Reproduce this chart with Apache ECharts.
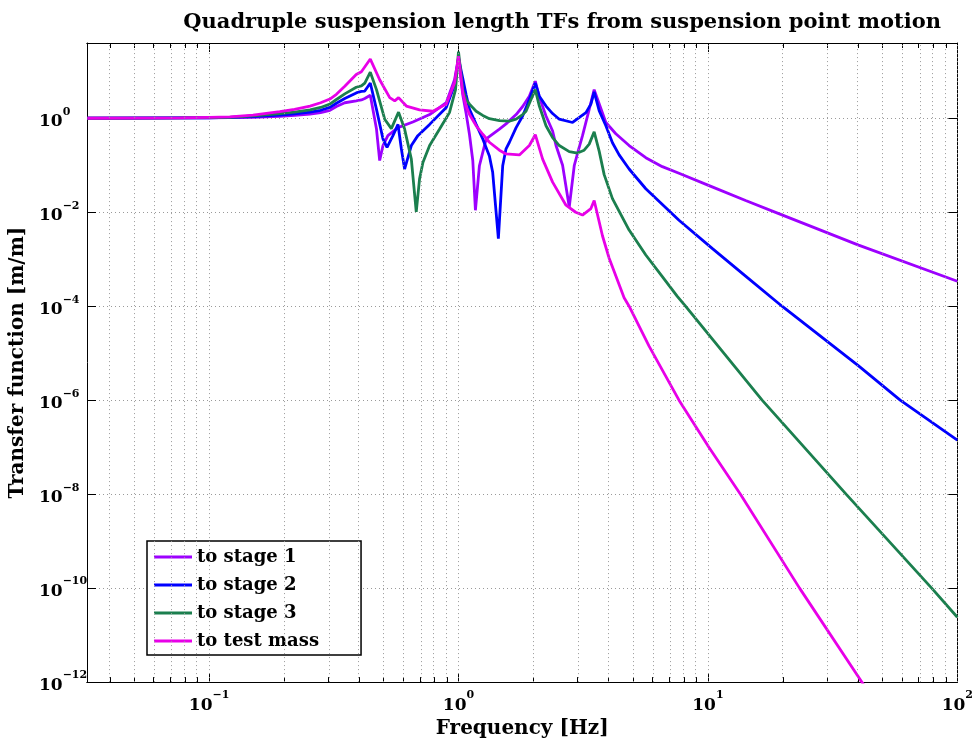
<!DOCTYPE html>
<html><head><meta charset="utf-8">
<script src="https://cdn.jsdelivr.net/npm/echarts@6/dist/echarts.min.js"></script>
<style>html,body{margin:0;padding:0;background:#fff}#c{width:976px;height:744px}</style>
</head><body><div id="c"></div>
<script>
// ---- data (frequency in Hz, magnitude in m/m) ----
const seriesNames = ['to stage 1', 'to stage 2', 'to stage 3', 'to test mass'];
const seriesColors = ['#9d00ff', '#0000ff', '#1b7f4e', '#e800e8'];

const stage1Freq = [0.0325, 0.0766, 0.10, 0.121, 0.15, 0.192, 0.22, 0.254, 0.28, 0.305, 0.324, 0.350, 0.389, 0.408, 0.421, 0.443, 0.469, 0.483, 0.498, 0.521, 0.572, 0.656, 0.766, 0.893, 0.964, 1.0, 1.04, 1.073, 1.107, 1.141, 1.169, 1.213, 1.291, 1.459, 1.551, 1.702, 1.808, 1.923, 2.032, 2.109, 2.243, 2.384, 2.460, 2.614, 2.780, 2.911, 3.000, 3.142, 3.342, 3.499, 3.898, 4.273, 4.831, 5.635, 6.564, 7.656, 10.40, 14.16, 19.23, 40.18, 100];
const stage1Mag = [1, 1.02, 1.02, 1.035, 1.05, 1.10, 1.15, 1.23, 1.32, 1.48, 1.78, 2.14, 2.34, 2.45, 2.63, 3.09, 0.589, 0.126, 0.263, 0.427, 0.631, 0.832, 1.20, 2.14, 6.61, 19.1, 3.16, 1.26, 0.447, 0.126, 0.0110, 0.0977, 0.363, 0.589, 0.759, 1.20, 1.78, 2.95, 6.17, 2.82, 1.12, 0.537, 0.263, 0.100, 0.0129, 0.0977, 0.178, 0.427, 1.55, 4.07, 0.813, 0.468, 0.263, 0.145, 0.0933, 0.0676, 0.0347, 0.0178, 0.00933, 0.00200, 3.39e-4];

const stage2Freq = [0.0325, 0.0766, 0.10, 0.121, 0.15, 0.192, 0.22, 0.254, 0.28, 0.305, 0.324, 0.350, 0.389, 0.408, 0.421, 0.443, 0.469, 0.498, 0.517, 0.546, 0.572, 0.590, 0.608, 0.647, 0.687, 0.766, 0.893, 0.964, 1.0, 1.04, 1.073, 1.107, 1.177, 1.251, 1.330, 1.371, 1.445, 1.504, 1.551, 1.600, 1.702, 1.808, 1.923, 2.032, 2.109, 2.243, 2.384, 2.535, 2.866, 3.242, 3.395, 3.499, 3.664, 3.898, 4.142, 4.406, 4.831, 5.635, 7.656, 10.40, 14.16, 19.82, 40.18, 59.0, 100];
const stage2Mag = [1, 1.02, 1.02, 1.05, 1.08, 1.17, 1.24, 1.35, 1.48, 1.70, 2.09, 2.63, 3.47, 3.72, 3.80, 5.62, 1.55, 0.363, 0.240, 0.427, 0.741, 0.224, 0.0832, 0.263, 0.427, 0.741, 1.70, 5.13, 19.1, 7.08, 3.16, 1.55, 0.741, 0.363, 0.158, 0.0708, 0.00275, 0.0977, 0.224, 0.309, 0.631, 1.12, 2.51, 5.62, 2.95, 1.82, 1.26, 0.955, 0.813, 1.32, 2.00, 3.63, 1.45, 0.692, 0.302, 0.166, 0.0832, 0.0316, 0.00676, 0.00170, 4.37e-4, 1.0e-4, 5.37e-6, 1.0e-6, 1.41e-7];

const stage3Freq = [0.0325, 0.0766, 0.10, 0.121, 0.15, 0.192, 0.22, 0.254, 0.28, 0.305, 0.324, 0.350, 0.389, 0.408, 0.421, 0.443, 0.469, 0.506, 0.538, 0.575, 0.608, 0.647, 0.677, 0.698, 0.720, 0.766, 0.840, 0.920, 0.973, 1.0, 1.040, 1.073, 1.107, 1.177, 1.251, 1.330, 1.459, 1.600, 1.702, 1.808, 1.865, 1.953, 2.032, 2.109, 2.243, 2.384, 2.535, 2.780, 3.000, 3.190, 3.342, 3.499, 3.664, 3.837, 4.142, 4.831, 5.635, 6.564, 7.538, 8.07, 16.49, 35.8, 78.9, 100];
const stage3Mag = [1, 1.02, 1.035, 1.05, 1.12, 1.26, 1.35, 1.51, 1.70, 2.00, 2.51, 3.31, 4.57, 4.90, 5.62, 9.55, 4.07, 0.955, 0.603, 1.35, 0.589, 0.135, 0.0102, 0.0513, 0.115, 0.263, 0.589, 1.32, 4.07, 26.3, 4.07, 2.51, 2.00, 1.41, 1.15, 0.977, 0.891, 0.871, 0.955, 1.20, 1.41, 2.51, 4.07, 1.82, 0.692, 0.389, 0.263, 0.195, 0.182, 0.209, 0.282, 0.513, 0.200, 0.0631, 0.0195, 0.00417, 0.00123, 4.27e-4, 1.62e-4, 1.05e-4, 1.0e-6, 1.0e-8, 1.0e-10, 2.40e-11];

const testMassFreq = [0.0325, 0.0766, 0.10, 0.121, 0.15, 0.192, 0.22, 0.254, 0.28, 0.305, 0.324, 0.350, 0.389, 0.408, 0.443, 0.483, 0.530, 0.555, 0.575, 0.618, 0.698, 0.789, 0.893, 0.964, 1.0, 1.040, 1.073, 1.107, 1.177, 1.251, 1.330, 1.459, 1.551, 1.754, 1.923, 2.032, 2.174, 2.384, 2.697, 2.950, 3.142, 3.395, 3.499, 3.777, 4.018, 4.613, 4.831, 5.808, 7.656, 10.09, 13.5, 23.3, 41.4, 44.0];
const testMassMag = [1, 1.02, 1.05, 1.07, 1.17, 1.38, 1.55, 1.82, 2.14, 2.57, 3.24, 4.79, 8.51, 9.77, 18.2, 6.61, 2.75, 2.34, 2.75, 1.82, 1.51, 1.41, 2.00, 5.62, 20.9, 3.55, 1.82, 1.20, 0.692, 0.457, 0.309, 0.209, 0.174, 0.166, 0.263, 0.447, 0.135, 0.0437, 0.0141, 0.0100, 0.00871, 0.0120, 0.0178, 0.00316, 0.00105, 1.51e-4, 1.0e-4, 1.41e-5, 1.0e-6, 1.0e-7, 1.0e-8, 1.0e-10, 1.0e-12, 6.3e-13];

// axis ranges and tick decades (exponents of 10)
const xRange = [0.0324, 100];
const yRange = [1e-12, 40];
const xMajorExp = [-1, 0, 1, 2];
const yMajorExp = [-12, -10, -8, -6, -4, -2, 0];
const minorMultipliers = [2, 3, 4, 5, 6, 7, 8, 9];

// ---- build ----
const FONT = "'DejaVu Serif', serif";
const lg = Math.log10;
const xMin = lg(xRange[0]), xMax = lg(xRange[1]);
const yMin = lg(yRange[0]), yMax = lg(yRange[1]);
const xMinor = [];
for (let d = -2; d <= 1; d++) minorMultipliers.forEach(k => { const v = lg(k) + d; if (v > xMin && v < xMax) xMinor.push(v); });
const xGrid = xMajorExp.concat(xMinor);

function supLabel(v) {
  const e = Math.round(v);
  return '{b|10}{s|' + (e < 0 ? '\u2212' + (-e) : String(e)) + '}';
}
const rich = {
  b: { fontFamily: FONT, fontWeight: 'bold', fontSize: 17, lineHeight: 24, verticalAlign: 'bottom', color: '#000' },
  s: { fontFamily: FONT, fontWeight: 'bold', fontSize: 11, lineHeight: 10, verticalAlign: 'top', color: '#000' }
};
const black = { color: '#000', width: 1 };
const dotted = { type: [1, 3], color: '#9a9a9a', width: 1 };
const nameStyle = { fontFamily: FONT, fontWeight: 'bold', fontSize: 20, color: '#000' };

function xAx(pos, ticks, len, extra) {
  return Object.assign({
    type: 'value', position: pos, min: xMin, max: xMax,
    axisLine: { show: true, onZero: false, lineStyle: black },
    axisTick: { show: true, inside: true, length: len, customValues: ticks, lineStyle: black },
    axisLabel: { show: false },
    splitLine: { show: false }
  }, extra || {});
}
function yAx(pos, extra) {
  return Object.assign({
    type: 'value', position: pos, min: yMin, max: yMax, interval: 2,
    axisLine: { show: true, onZero: false, lineStyle: black },
    axisTick: { show: true, inside: true, length: 9, customValues: yMajorExp, lineStyle: black },
    axisLabel: { show: false },
    splitLine: { show: false }
  }, extra || {});
}

const curves = [
  [stage1Freq, stage1Mag], [stage2Freq, stage2Mag], [stage3Freq, stage3Mag], [testMassFreq, testMassMag]
].map((fm, i) => ({
  type: 'line', name: seriesNames[i], xAxisIndex: 0, yAxisIndex: 0,
  data: fm[0].map((f, j) => [lg(f), lg(fm[1][j])]),
  showSymbol: false, symbol: 'none', clip: true, z: 3,
  color: seriesColors[i],
  itemStyle: { color: seriesColors[i] },
  lineStyle: { color: seriesColors[i], width: 2.8 }
}));

const option = {
  animation: false,
  backgroundColor: '#fff',
  textStyle: { fontFamily: FONT },
  title: {
    text: 'Quadruple suspension length TFs from suspension point motion',
    right: 30, top: 7,
    textStyle: { fontFamily: FONT, fontWeight: 'bold', fontSize: 21, color: '#000' }
  },
  grid: { left: 87, right: 18, top: 43, bottom: 57, containLabel: false },
  legend: {
    orient: 'vertical', left: 147, top: 541,
    data: seriesNames,
    icon: 'rect',
    itemWidth: 38, itemHeight: 3, itemGap: 8,
    padding: [6, 42, 4, 7],
    borderColor: '#000', borderWidth: 1.5, backgroundColor: '#fff',
    textStyle: { fontFamily: FONT, fontWeight: 'bold', fontSize: 18, color: '#000', lineHeight: 20 }
  },
  xAxis: [
    xAx('bottom', xMajorExp, 9, {
      axisLabel: { show: true, customValues: xMajorExp, formatter: supLabel, rich: rich, margin: 8 },
      name: 'Frequency [Hz]', nameLocation: 'middle', nameGap: 35,
      nameTextStyle: nameStyle
    }),
    xAx('bottom', xMinor, 5),
    xAx('top', xMajorExp, 9),
    xAx('top', xMinor, 5)
  ],
  yAxis: [
    yAx('left', {
      axisLabel: { show: true, customValues: yMajorExp, formatter: supLabel, rich: rich, align: 'left', margin: 48 },
      splitLine: { show: true, lineStyle: dotted },
      name: 'Transfer function [m/m]', nameLocation: 'middle', nameGap: 55, nameRotate: 90,
      nameTextStyle: nameStyle
    }),
    yAx('right')
  ],
  series: [{
    type: 'line', data: [], xAxisIndex: 0, yAxisIndex: 0, silent: true, z: 1,
    markLine: {
      silent: true, animation: false, symbol: ['none', 'none'],
      label: { show: false }, emphasis: { disabled: true },
      lineStyle: dotted,
      data: xGrid.map(v => ({ xAxis: v }))
    }
  }].concat(curves)
};

const chart = echarts.init(document.getElementById('c'), null, { renderer: 'canvas' });
chart.setOption(option);
</script>
</body></html>
